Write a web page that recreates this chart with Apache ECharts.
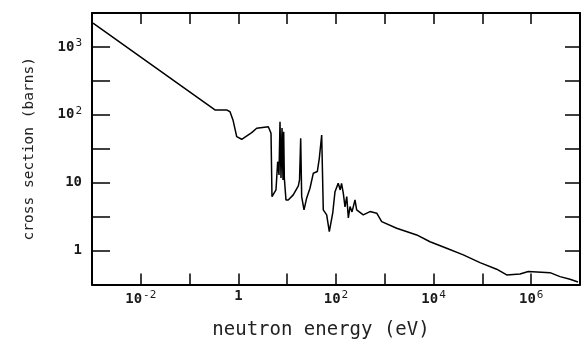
<!DOCTYPE html>
<html><head><meta charset="utf-8">
<script src="https://cdn.jsdelivr.net/npm/echarts@6/dist/echarts.min.js"></script>
<style>html,body{margin:0;padding:0;background:#fff}#c{width:582px;height:339px}</style>
</head><body><div id="c"></div>
<script>
// neutron energy (eV)
const energy = [0.00105, 0.331, 0.575, 0.673, 0.774, 0.923, 1.168, 1.873, 2.37, 4.10,
  4.66, 4.88, 5.36, 5.89, 6.38, 6.79, 7.12, 7.46, 7.83, 8.20,
  8.47, 8.73, 9.44, 10.5, 13.3, 16.9, 17.9, 18.9, 19.8, 22.1,
  25.1, 29.3, 34.3, 41.4, 45.5, 50.9, 54.9, 64.4, 72.9, 85.6,
  95.4, 111, 122, 130, 141, 153, 166, 179, 194, 213,
  245, 265, 286, 362, 497, 683, 864, 1750, 4510, 8440,
  18500, 40600, 89300, 196000, 315000, 589000, 873000, 2430000, 3890000, 6240000, 9100000];
// cross section (barns)
const crossSection = [2250, 118, 118, 111, 84, 47.7, 43.6, 54.6, 63.4, 66.9,
  53.5, 6.23, 6.23, 7.82, 20.4, 13.0, 79.3, 11.7, 64, 11.0,
  56.5, 11.7, 5.57, 5.57, 6.61, 8.95, 11.0, 45.2, 6.23, 3.97,
  5.96, 8.28, 13.8, 14.6, 22.9, 50.5, 3.97, 3.35, 1.90, 3.55,
  7.38, 9.82, 7.82, 9.76, 7.00, 4.40, 6.23, 3.03, 4.44, 3.71,
  5.57, 3.97, 3.75, 3.35, 3.75, 3.55, 2.67, 2.13, 1.70, 1.35,
  1.08, 0.863, 0.665, 0.531, 0.438, 0.453, 0.490, 0.473, 0.413, 0.378, 0.345];
// labelled decades
const xLabelExponents = [-2, 0, 2, 4, 6];
const yLabelExponents = [0, 1, 2, 3];

const FONT = 'DejaVu Sans Mono';
function decadeLabel(v, list) {
  const l = Math.log10(v);
  const e = Math.round(l);
  if (Math.abs(l - e) > 1e-6 || list.indexOf(e) < 0) return '';
  if (e === 0) return '{n|1}';
  if (e === 1) return '{n|10}';
  return '{n|10}{s|' + e + '}';
}
const rich = {
  n: {fontFamily: FONT, fontSize: 14, fontWeight: 'bold', color: '#1a1a1a'},
  s: {fontFamily: FONT, fontSize: 11, color: '#1a1a1a', padding: [0, 0, 8, 1]}
};
const axisLine = {show: true, lineStyle: {color: '#000', width: 2}};
function xAx(pos, withLabels) {
  return {
    type: 'log', logBase: 10, min: 0.001, max: 1e7, interval: 1, position: pos,
    axisLine: axisLine,
    axisTick: {show: true, inside: true, length: 11, lineStyle: {color: '#000', width: 1.5}},
    axisLabel: withLabels ? {show: true, margin: 5, formatter: v => decadeLabel(v, xLabelExponents), rich: rich} : {show: false},
    splitLine: {show: false},
    name: withLabels ? 'neutron energy (eV)' : '',
    nameLocation: 'middle', nameGap: 36,
    nameTextStyle: {fontFamily: FONT, fontSize: 19, color: '#222', padding: [0, 30, 0, 0]}
  };
}
function yAx(pos, withLabels, len) {
  return {
    type: 'log', logBase: Math.sqrt(10), min: Math.pow(10, -0.5), max: Math.pow(10, 3.5), interval: 1, position: pos,
    axisLine: axisLine,
    axisTick: {show: true, inside: true, length: len, lineStyle: {color: '#000', width: 1.5}},
    axisLabel: withLabels ? {show: true, margin: 10, formatter: v => decadeLabel(v, yLabelExponents), rich: rich} : {show: false},
    splitLine: {show: false},
    name: withLabels ? 'cross section (barns)' : '',
    nameLocation: 'middle', nameGap: 55, nameRotate: 90,
    nameTextStyle: {fontFamily: FONT, fontSize: 14.5, color: '#222'}
  };
}
const chart = echarts.init(document.getElementById('c'), null, {renderer: 'canvas'});
chart.setOption({
  animation: false,
  backgroundColor: '#fff',
  grid: {left: 92, right: 2, top: 13, bottom: 54.5, containLabel: false, outerBoundsMode: 'none'},
  xAxis: [xAx('bottom', true), xAx('top', false)],
  yAxis: [yAx('left', true, 18), yAx('right', false, 15)],
  series: [{
    type: 'line', xAxisIndex: 0, yAxisIndex: 0, showSymbol: false, symbol: 'none',
    lineStyle: {color: '#000', width: 1.5},
    data: energy.map((e, i) => [e, crossSection[i]])
  }]
});
</script>
</body></html>
